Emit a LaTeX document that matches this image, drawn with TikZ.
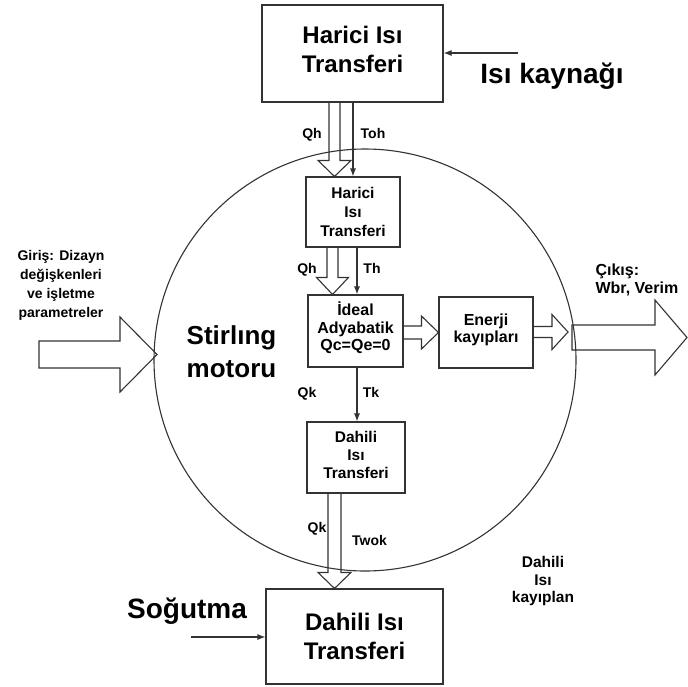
\documentclass[tikz,border=0pt]{standalone}
\usepackage{fontspec}
\setmainfont{Liberation Sans}
\usetikzlibrary{arrows.meta,calc}

% Open-tailed block arrow pointing down: from, to, half body, half head, head length
\newcommand\downhollow[5]{%
  \draw[hollow] let \p1=#1, \p2=#2 in
    (\x2-#3,\y1) -- (\x2-#3,\y2+#5) -- (\x2-#4,\y2+#5) -- (\x2,\y2)
    -- (\x2+#4,\y2+#5) -- (\x2+#3,\y2+#5) -- (\x2+#3,\y1);}
% Open-tailed block arrow pointing right
\newcommand\righthollow[5]{%
  \draw[hollow] let \p1=#1, \p2=#2 in
    (\x1,\y2+#3) -- (\x2-#5,\y2+#3) -- (\x2-#5,\y2+#4) -- (\x2,\y2)
    -- (\x2-#5,\y2-#4) -- (\x2-#5,\y2-#3) -- (\x1,\y2-#3);}
% Closed block arrow pointing right
\newcommand\rightblock[5]{%
  \draw[hollow] let \p1=#1, \p2=#2 in
    (\x1,\y2+#3) -- (\x2-#5,\y2+#3) -- (\x2-#5,\y2+#4) -- (\x2,\y2)
    -- (\x2-#5,\y2-#4) -- (\x2-#5,\y2-#3) -- (\x1,\y2-#3) -- cycle;}

\begin{document}
\begin{tikzpicture}[x=1pt,y=-1pt,line width=1.1pt,draw=black!80,
  box/.style={draw=black!80,inner sep=0pt,align=center,
    font=\bfseries\fontsize{15.5}{19}\selectfont},
  bigbox/.style={box,font=\bfseries\fontsize{24}{29}\selectfont},
  lbl/.style={inner sep=0pt,anchor=base,font=\bfseries\fontsize{14}{17}\selectfont},
  note/.style={inner sep=0pt,align=center,font=\bfseries\fontsize{15}{18}\selectfont},
  title/.style={inner sep=0pt,anchor=base,font=\bfseries\fontsize{28}{30}\selectfont},
  arr/.style={draw=black!80,-{Latex[length=8pt,width=6pt]}},
  hollow/.style={draw=black!80,line join=miter}]
\useasboundingbox (0,0) rectangle (688,686);

% engine boundary
\node[draw=black!80,circle,minimum size=422pt,inner sep=0pt] (eng) at (365,360) {};

% blocks
\node[bigbox,minimum width=181pt,minimum height=97pt,text depth=8pt] (h1) at (352.5,53.5) {Harici Isı\\Transferi};
\node[box,minimum width=94pt,minimum height=70pt] (h2) at (353,212) {Harici\\Isı\\Transferi};
\node[box,minimum width=95pt,minimum height=72pt,text depth=9pt,
  font=\bfseries\fontsize{16}{17.5}\selectfont] (h3) at (355.5,331) {İdeal\\Adyabatik\\Qc=Qe=0};
\node[box,minimum width=94pt,minimum height=71pt,text depth=9pt,
  font=\bfseries\fontsize{16}{16.5}\selectfont] (h4) at (486,332.5) {Enerji\\kayıpları};
\node[box,minimum width=98pt,minimum height=71pt,text depth=6pt,
  font=\bfseries\fontsize{15.5}{18}\selectfont] (h5) at (356,457.5) {Dahili\\Isı\\Transferi};
\node[bigbox,minimum width=177pt,minimum height=95pt] (h6) at (354.5,636.5) {Dahili Isı\\Transferi};

% heat and temperature flows through the chain
\downhollow{($(h1.south)+(-18,0)$)}{($(h2.north)+(-18.5,0)$)}{5.5pt}{16.5pt}{16pt}
\draw[arr] (h1.south -| h2.north) -- (h2.north);
\downhollow{($(h2.south)+(-20.5,0)$)}{($(h3.north)+(-23,0)$)}{5.5pt}{16pt}{17pt}
\draw[arr] ($(h2.south)+(4,0)$) -- ($(h3.north)+(1.5,0)$);
\draw[arr] ($(h3.south)+(1.5,0)$) -- ($(h5.north)+(1,0)$);
\downhollow{($(h5.south)+(-21.5,0)$)}{($(h6.north)+(-20,0)$)}{6.5pt}{16.5pt}{16pt}

% power path to the output
\righthollow{(h3.east)}{(h4.west)}{6.5pt}{16.5pt}{17pt}
\coordinate (edge) at (568,332);
\righthollow{(h4.east)}{(edge)}{5.5pt}{17.5pt}{16pt}
\coordinate (outstart) at (572,337.5);
\coordinate (outend) at (687,337.5);
\rightblock{(outstart)}{(outend)}{12.5pt}{37.5pt}{32pt}

% inputs
\coordinate (instart) at (39,354.5);
\coordinate (intip) at (157,354.5);
\rightblock{(instart)}{(intip)}{13.5pt}{37.5pt}{37pt}

% source and sink arrows
\coordinate (src) at (518,53);
\draw[arr] (src) -- (src -| h1.east);
\coordinate (cool) at (191,637);
\draw[arr] (cool) -- (cool -| h6.west);

% flow labels
\node[lbl] (lqh1) at (312,138) {Qh};
\node[lbl] (ltoh) at (373,138) {Toh};
\node[lbl] (lqh2) at (307,273) {Qh};
\node[lbl] (lth) at (372,273) {Th};
\node[lbl] (lqk1) at (307,397.5) {Qk};
\node[lbl] (ltk) at (371,397) {Tk};
\node[lbl] (lqk2) at (317,532) {Qk};
\node[lbl] (ltwok) at (369.5,545) {Twok};

% titles and notes
\node[title] (tsrc) at (552,83) {Isı kaynağı};
\node[title] (tcool) at (187,618) {Soğutma};
\node[inner sep=0pt,align=center,font=\bfseries\fontsize{26}{33}\selectfont] (tname) at (231.5,352) {Stirlıng\\motoru};
\node[inner sep=0pt,align=center,font=\bfseries\fontsize{14}{19}\selectfont] (tin) at (61,285.5) {Giriş: Dizayn\\değişkenleri\\ve işletme\\parametreler};
\node[inner sep=0pt,align=left,anchor=west,font=\bfseries\fontsize{16}{18}\selectfont] (tout) at (595,280) {Çıkış:\\Wbr, Verim};
\node[note,font=\bfseries\fontsize{15.5}{17.5}\selectfont] (tloss) at (543,581) {Dahili\\Isı\\kayıplan};
\end{tikzpicture}
\end{document}
